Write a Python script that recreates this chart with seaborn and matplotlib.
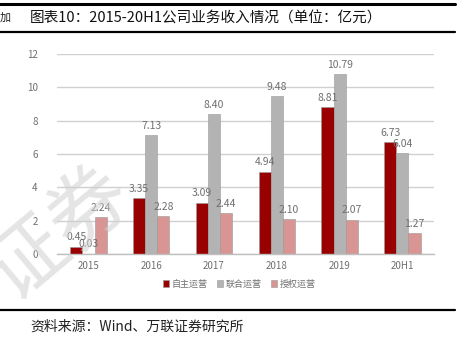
import matplotlib
matplotlib.use("Agg")
import matplotlib.pyplot as plt
import seaborn as sns
import pandas as pd
from matplotlib.lines import Line2D
from matplotlib.patches import Patch

categories = ["2015", "2016", "2017", "2018", "2019", "20H1"]
series_names = ["自主运营", "联合运营", "授权运营"]
self_operated = [0.45, 3.35, 3.09, 4.94, 8.81, 6.73]
joint_operated = [0.03, 7.13, 8.40, 9.48, 10.79, 6.04]
licensed = [2.24, 2.28, 2.44, 2.10, 2.07, 1.27]
y_ticks = [0, 2, 4, 6, 8, 10, 12]

sns.set_theme(style="white")
plt.rcParams["font.family"] = ["Noto Sans CJK SC", "DejaVu Sans"]

df = pd.DataFrame({
    "year": categories * 3,
    "value": self_operated + joint_operated + licensed,
    "type": [series_names[0]] * 6 + [series_names[1]] * 6 + [series_names[2]] * 6,
})
colors = ["#990000", "#B3B3B3", "#D99594"]

fig = plt.figure(figsize=(4.6, 3.48), dpi=100)
ax = fig.add_axes([0.124, 0.270, 0.819, 0.575])
ax.set_facecolor("none")

sns.barplot(data=df, x="year", y="value", hue="type", palette=colors,
            width=0.58, ax=ax, legend=False, saturation=1,
            edgecolor="#9a9a9a", linewidth=0.4, errorbar=None)

for cont in ax.containers:
    ax.bar_label(cont, fmt="%.2f", padding=3, fontsize=7.5, color="#6f6f6f")

ax.set_ylim(0, 12)
ax.set_xlim(-0.5, 5.5)
ax.set_yticks(y_ticks)
ax.yaxis.grid(True, color="#d0d0d0", linewidth=1.0)
ax.set_axisbelow(True)
for s in ["top", "right", "left"]:
    ax.spines[s].set_visible(False)
ax.spines["bottom"].set_color("#bfbfbf")
ax.spines["bottom"].set_linewidth(1.0)
ax.tick_params(axis="both", length=0, labelsize=7, colors="#6f6f6f")
ax.tick_params(axis="y", pad=14)
ax.tick_params(axis="x", pad=5)
ax.set_xlabel("")
ax.set_ylabel("")

handles = [Patch(facecolor=c, edgecolor="#9a9a9a", linewidth=0.4) for c in colors]
fig.legend(handles, series_names, loc="center", bbox_to_anchor=(0.52, 0.184),
           ncol=3, frameon=False, fontsize=6.5, handlelength=0.7, handleheight=0.7,
           handletextpad=0.3, columnspacing=1.0, labelcolor="#6f6f6f")

# header and footer rules
fig.add_artist(Line2D([0.0, 0.99], [0.988, 0.988], color="black", linewidth=2.2))
fig.add_artist(Line2D([0.0, 0.99], [0.908, 0.908], color="black", linewidth=1.6))
fig.add_artist(Line2D([0.0, 0.99], [0.108, 0.108], color="black", linewidth=1.6))

fig.text(0.065, 0.948, "图表10：2015-20H1公司业务收入情况（单位：亿元）",
         fontsize=10.5, color="#111111", va="center", ha="left", weight="medium")
fig.text(0.0, 0.948, "加", fontsize=8, color="#222222", va="center", ha="left")
fig.text(0.065, 0.062, "资料来源：Wind、万联证券研究所", fontsize=10,
         color="#222222", va="center", ha="left", style="italic")

# watermark
fig.text(0.13, 0.33, "证券", fontsize=58, color="#cfcfcf", alpha=0.55,
         rotation=40, ha="center", va="center", zorder=10)

fig.savefig("out.png", dpi=100)
